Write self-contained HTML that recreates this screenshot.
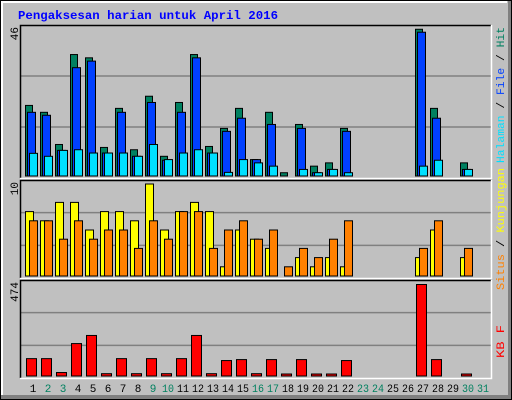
<!DOCTYPE html>
<html><head><meta charset="utf-8"><style>
body{margin:0;background:#fff}
svg{display:block}
text{font-family:"Liberation Mono","DejaVu Sans Mono",monospace}
</style></head><body>
<svg id="c" width="512" height="400" viewBox="0 0 512 400">
<rect x="0" y="0" width="512" height="400" fill="#C0C0C0"/>
<rect x="0.5" y="0.5" width="511" height="399" fill="none" stroke="#000"/>
<rect x="1" y="1" width="506" height="2" fill="#fff"/>
<rect x="1" y="1" width="2" height="394" fill="#fff"/>
<rect x="508" y="1" width="3" height="398" fill="#808080"/>
<rect x="1" y="395" width="510" height="4" fill="#808080"/>
<text x="18" y="19" font-size="12" font-weight="bold" fill="#0000FF" textLength="260" lengthAdjust="spacingAndGlyphs">Pengaksesan harian untuk April 2016</text>
<g id="g"></g>
</svg>
<script>
const days=[1,2,3,4,5,6,7,8,9,10,11,12,13,14,15,16,17,18,19,20,21,22,23,24,25,26,27,28,29,30,31];
const weekend=[2,3,9,10,16,17,23,24,30,31];
const hits=[21.5,19.4,9.6,37,36,8.7,20.6,8,24.3,6,22.4,37,9,14.5,20.6,5,19.4,1,15.7,3,4,14.5,0,0,0,0,44.7,20.6,0,4,0];
const files=[19.4,18.5,7.8,33,35,7,19.4,6,22.4,4.8,19.4,36,7,13.6,17.6,5,15.7,0,14.5,1,2,13.6,0,0,0,0,43.8,17.6,0,2,0];
const pages=[6.9,6,7.8,8,7,7,7,6,9.6,5,7,8,7,1.1,5,4,3,0,2,1,2,1,0,0,0,0,3,4.8,0,2,0];
const visits=[7,6,8,8,5,7,7,6,10,5,7,8,7,1,5,4,3,0,2,1,2,1,0,0,0,0,2,5,0,2,0];
const sites=[6,6,4,6,4,5,5,3,6,4,7,7,3,5,6,4,5,1,3,2,4,6,0,0,0,0,3,6,0,3,0];
const kbytes=[90,90,18,168,210,12,90,12,90,12,90,210,12,80,85,12,85,7,85,7,7,80,0,0,0,0,474,85,0,7,0];
const maxHits=46, maxVisits=10, maxKB=474;

const NS="http://www.w3.org/2000/svg";
const g=document.getElementById('g');
function mk(tag,attrs,parent){const e=document.createElementNS(NS,tag);for(const k in attrs)e.setAttribute(k,attrs[k]);(parent||g).appendChild(e);return e;}
const dx=d=>25+15*(d-1);
const P1={top:25,base:176,h:151};
const P2={top:180,base:276,h:92};
const P3={top:280,base:376,h:91.5};
const y1=v=>P1.base-v/maxHits*P1.h;
const y2=v=>P2.base-v/maxVisits*P2.h;
const y3=v=>P3.base-v/maxKB*P3.h;

[[P1,178,'panel-hits'],[P2,278,'panel-visits'],[P3,378,'panel-kbytes']].forEach(([p,b,n])=>{
  const r=mk('rect',{x:20,y:p.top,width:471,height:b-p.top,fill:'#C0C0C0'});
  
  
  const s=(b-p.top)/3;
  for(let i=1;i<3;i++){const l=mk('line',{x1:21,x2:491,y1:p.top+s*i,y2:p.top+s*i,stroke:'#808080','stroke-width':1.5});
    
    }
  mk('path',{d:`M20.5 ${b} V${p.top+0.5} H491`,stroke:'#000',fill:'none','stroke-width':1.5});
  mk('path',{d:`M20 ${b+0.5} H491.5 V${p.top}`,stroke:'#fff',fill:'none','stroke-width':1.5});
});
function bar(x,w,ytop,yb,fill,name){
  if(yb-ytop<0.5)return;
  const r=mk('rect',{x:x+0.5,y:ytop,width:w-1,height:yb-ytop,fill:fill,stroke:'#000','stroke-width':1});
  
  
}
days.forEach((d,i)=>{
  const x=dx(d);
  if(hits[i]>0)bar(x,8,y1(hits[i]),P1.base,'#008060','bar-hits-'+d);
  if(files[i]>0)bar(x+2,9,y1(files[i]),P1.base,'#0040FF','bar-files-'+d);
  if(pages[i]>0)bar(x+4,9,y1(pages[i]),P1.base,'#00E0FF','bar-pages-'+d);
  if(visits[i]>0)bar(x,9,y2(visits[i]),P2.base,'#FFFF00','bar-visits-'+d);
  if(sites[i]>0)bar(x+4,9,y2(sites[i]),P2.base,'#FF8000','bar-sites-'+d);
  if(kbytes[i]>0)bar(x+1,11,Math.min(y3(kbytes[i]),P3.base-2),P3.base,'#FF0000','bar-kbytes-'+d);
  const attrs={x:x+8,y:392,'font-size':11,'text-anchor':'middle',fill:weekend.includes(d)?'#00805F':'#000'};
  if(d>=10){attrs.textLength=12;attrs.lengthAdjust='spacingAndGlyphs';}
  const t=mk('text',attrs);
  t.textContent=d;
  
  
});
[[maxHits,P1.top],[maxVisits,P2.top],[maxKB,P3.top]].forEach(([v,y])=>{
  const t=mk('text',{transform:`translate(18,${y+2}) rotate(-90)`,'font-size':11,'text-anchor':'end',fill:'#000'});
  t.textContent=v;
  
  
});
function rlab(ytop,len,parts,name){
  const t=mk('text',{transform:`translate(504,${ytop+len}) rotate(-90)`,'font-size':11,'text-anchor':'start',textLength:len,lengthAdjust:'spacingAndGlyphs'});
  
  
  parts.forEach(([s,c])=>{const sp=mk('tspan',{fill:c},t);sp.textContent=s;});
}
rlab(27,136,[['Halaman','#00E0FF'],[' / ','#000'],['File','#0040FF'],[' / ','#000'],['Hit','#008060']],'legend-hits');
rlab(168,122,[['Situs','#FF8000'],[' / ','#000'],['Kunjungan','#FFFF00']],'legend-visits');
rlab(325,33,[['KB F','#FF0000']],'legend-kbytes');
</script>
</body></html>
